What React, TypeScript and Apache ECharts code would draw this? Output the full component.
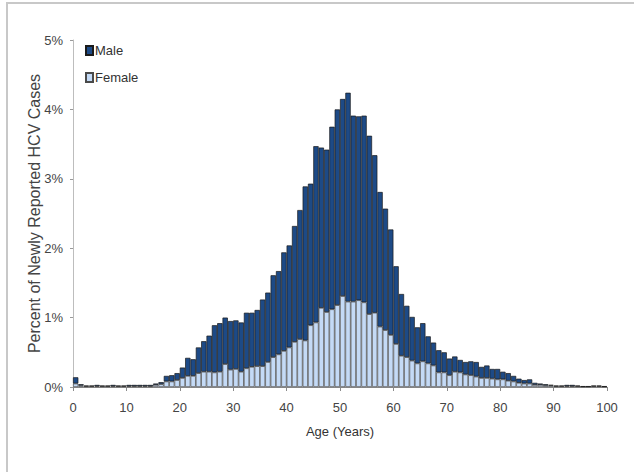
import React, { useEffect, useRef } from "react";
import * as echarts from "echarts";

const ages: string[] = Array.from({ length: 100 }, (_, i) => String(i));

const female: number[] = [
  0.05, 0.02, 0.01, 0.01, 0.01, 0.01, 0.01, 0.01, 0.01, 0.01,
  0.01, 0.01, 0.01, 0.01, 0.01, 0.03, 0.04, 0.08, 0.08, 0.10,
  0.13, 0.16, 0.16, 0.20, 0.22, 0.22, 0.21, 0.22, 0.33, 0.25,
  0.26, 0.22, 0.27, 0.29, 0.30, 0.30, 0.36, 0.43, 0.47, 0.52,
  0.57, 0.65, 0.69, 0.67, 0.89, 0.93, 1.14, 1.08, 1.12, 1.18,
  1.31, 1.23, 1.23, 1.25, 1.22, 1.05, 1.07, 0.87, 0.82, 0.75,
  0.62, 0.45, 0.43, 0.38, 0.34, 0.37, 0.34, 0.31, 0.21, 0.21,
  0.17, 0.22, 0.21, 0.18, 0.17, 0.15, 0.13, 0.13, 0.12, 0.11,
  0.11, 0.09, 0.08, 0.06, 0.05, 0.05, 0.03, 0.03, 0.02, 0.02,
  0.01, 0.01, 0.01, 0.01, 0.01, 0.005, 0.005, 0.01, 0.01, 0.005,
];

const male: number[] = [
  0.09, 0.02, 0.01, 0.01, 0.02, 0.01, 0.01, 0.02, 0.01, 0.01,
  0.02, 0.02, 0.02, 0.02, 0.02, 0.02, 0.03, 0.08, 0.09, 0.10,
  0.15, 0.26, 0.24, 0.37, 0.44, 0.52, 0.68, 0.70, 0.67, 0.70,
  0.70, 0.71, 0.80, 0.78, 0.81, 0.96, 1.00, 1.18, 1.20, 1.42,
  1.47, 1.67, 1.86, 2.22, 2.04, 2.54, 2.31, 2.34, 2.63, 2.82,
  2.84, 3.01, 2.68, 2.65, 2.69, 2.57, 2.27, 1.94, 1.75, 1.52,
  1.12, 0.89, 0.74, 0.63, 0.52, 0.55, 0.39, 0.33, 0.32, 0.29,
  0.24, 0.22, 0.18, 0.18, 0.20, 0.21, 0.16, 0.18, 0.14, 0.15,
  0.11, 0.11, 0.08, 0.06, 0.05, 0.06, 0.03, 0.02, 0.02, 0.01,
  0.01, 0.01, 0.02, 0.02, 0.01, 0.005, 0.005, 0.01, 0.01, 0.005,
];

const yTicks: string[] = ["0%", "1%", "2%", "3%", "4%", "5%"];

const FONT = "'Liberation Sans', Arial, sans-serif";

export default function App() {
  const ref = useRef<HTMLDivElement>(null);
  useEffect(() => {
    if (!ref.current) return;
    const chart = echarts.init(ref.current, null, { renderer: "svg" });
    chart.setOption({
      animation: false,
      backgroundColor: "#ffffff",
      grid: { left: 73, right: 27, top: 40, bottom: 85, containLabel: false },
      legend: {
        data: ["Male", "Female"],
        orient: "vertical",
        left: 80,
        top: 39,
        itemWidth: 7,
        itemHeight: 9,
        itemGap: 14,
        icon: "rect",
        textStyle: { fontFamily: FONT, fontSize: 13, color: "#333", padding: [0, 0, 0, -3] },
      },
      xAxis: [
        {
          type: "category",
          data: ages,
          boundaryGap: true,
          show: false,
        },
        {
          type: "value",
          min: 0,
          max: 100,
          interval: 10,
          position: "bottom",
          name: "Age (Years)",
          nameLocation: "middle",
          nameGap: 38,
          nameTextStyle: { fontFamily: FONT, fontSize: 13, color: "#333" },
          axisLine: { show: true, lineStyle: { color: "#8a8a8a", width: 1 } },
          axisTick: { show: true, length: 4, lineStyle: { color: "#8a8a8a" } },
          axisLabel: { fontFamily: FONT, fontSize: 13, color: "#444", margin: 14 },
          splitLine: { show: false },
        },
      ],
      yAxis: {
        type: "value",
        min: 0,
        max: 5,
        interval: 1,
        name: "Percent of Newly Reported HCV Cases",
        nameLocation: "middle",
        nameGap: 31,
        nameMoveOverlap: false,
        nameTextStyle: { fontFamily: FONT, fontSize: 16, color: "#444" },
        axisLine: { show: true, lineStyle: { color: "#bdbdbd", width: 1 } },
        axisTick: { show: true, length: 3, lineStyle: { color: "#9a9a9a" } },
        axisLabel: {
          fontFamily: FONT,
          fontSize: 13,
          color: "#444",
          margin: 10,
          formatter: (v: number) => yTicks[Math.round(v)] ?? `${v}%`,
        },
        splitLine: { show: false },
      },
      series: [
        {
          name: "Female",
          type: "bar",
          stack: "sex",
          xAxisIndex: 0,
          barCategoryGap: "0%",
          data: female,
          itemStyle: { color: "#c4daf6", borderColor: "#4a4a4a", borderWidth: 0.7 },
        },
        {
          name: "Male",
          type: "bar",
          stack: "sex",
          xAxisIndex: 0,
          barCategoryGap: "0%",
          data: male,
          itemStyle: { color: "#1d4a86", borderColor: "#1a1a1a", borderWidth: 0.7 },
        },
      ],
      graphic: [
        { type: "line", shape: { x1: 6, y1: 3, x2: 634, y2: 3 }, style: { stroke: "#c8c8c8", lineWidth: 2 } },
        { type: "line", shape: { x1: 7, y1: 3, x2: 7, y2: 472 }, style: { stroke: "#c8c8c8", lineWidth: 2 } },
      ],
    });
    return () => chart.dispose();
  }, []);
  return (
    <div
      ref={ref}
      style={{ position: "fixed", left: 0, top: 0, width: 634, height: 472 }}
    />
  );
}
